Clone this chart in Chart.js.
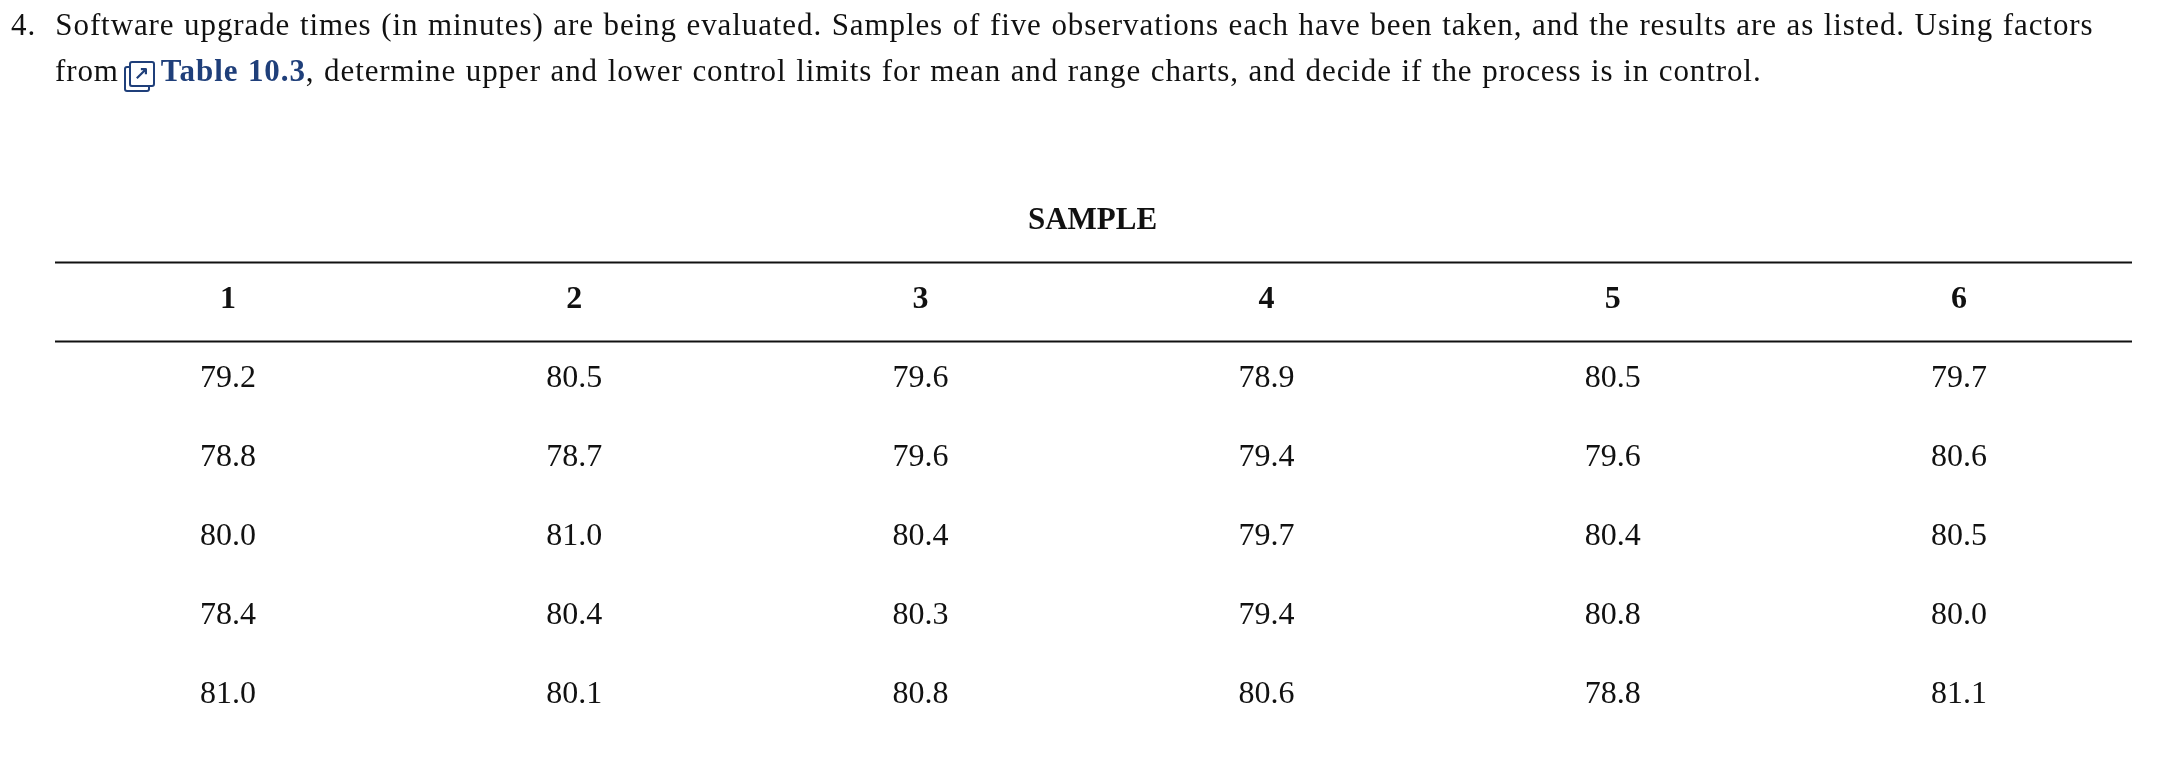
<!DOCTYPE html>
<html>
<head>
<meta charset="utf-8">
<script src="https://cdn.jsdelivr.net/npm/chart.js"></script>
<style>
  body { margin: 0; background: #fff; width: 2164px; height: 770px; overflow: hidden; position: relative; }
  #q { position: absolute; left: 11px; top: 2px; font-family: "Liberation Serif", serif; font-size: 31px; letter-spacing: 0.9px; word-spacing: 1px; line-height: 46px; color: #111; z-index: 2; white-space: nowrap; }
  #q .ind { padding-left: 44px; }
  #q b { color: #1f3f7a; }
  .ico { display: inline-block; width: 22px; height: 22px; border: 2.5px solid #1f3f7a; border-radius: 3px; vertical-align: 2px; margin: 0 6px 0 10px; position: relative; box-shadow: -5px 5px 0 -2px #fff, -5px 5px 0 0 #1f3f7a; font-size: 18px; line-height: 20px; text-align: center; color: #1f3f7a; font-weight: bold; letter-spacing: 0; }
  #wrap { position: absolute; left: 0; top: 0; width: 2164px; height: 770px; }
</style>
</head>
<body>
<div id="q">4.&nbsp; Software upgrade times (in minutes) are being evaluated. Samples of five observations each have been taken, and the results are as listed. Using factors<br>
<span class="ind">from<span class="ico">&#8599;</span><b>Table 10.3</b>, determine upper and lower control limits for mean and range charts, and decide if the process is in control.</span></div>
<div id="wrap"><canvas id="myChart"></canvas></div>
<script>
const sampleLabels = ['1', '2', '3', '4', '5', '6'];
const sample1 = ['79.2', '78.8', '80.0', '78.4', '81.0'];
const sample2 = ['80.5', '78.7', '81.0', '80.4', '80.1'];
const sample3 = ['79.6', '79.6', '80.4', '80.3', '80.8'];
const sample4 = ['78.9', '79.4', '79.7', '79.4', '80.6'];
const sample5 = ['80.5', '79.6', '80.4', '80.8', '78.8'];
const sample6 = ['79.7', '80.6', '80.5', '80.0', '81.1'];
const samples = [sample1, sample2, sample3, sample4, sample5, sample6];

const cells = [];
samples.forEach((col, c) => {
  cells.push({ x: c + 1, y: 0, t: sampleLabels[c], bold: true });
  col.forEach((v, r) => cells.push({ x: c + 1, y: r + 1, t: v, bold: false }));
});

const tablePlugin = {
  id: 'tableText',
  afterDatasetsDraw(chart) {
    const { ctx, scales: { x, y }, chartArea } = chart;
    ctx.save();
    ctx.strokeStyle = '#111';
    ctx.lineWidth = 2;
    [-0.48, 0.52].forEach(v => {
      const py = Math.round(y.getPixelForValue(v)) + 0.5;
      ctx.beginPath(); ctx.moveTo(chartArea.left, py); ctx.lineTo(chartArea.right, py); ctx.stroke();
    });
    ctx.fillStyle = '#111';
    ctx.textAlign = 'center';
    ctx.textBaseline = 'middle';
    ctx.font = 'bold 31px "Liberation Serif"';
    ctx.fillText('SAMPLE', (chartArea.left + chartArea.right) / 2 - 1, y.getPixelForValue(-1));
    chart.data.datasets[0].data.forEach(p => {
      ctx.font = (p.bold ? 'bold ' : '') + '32px "Liberation Serif"';
      ctx.fillText(p.t, x.getPixelForValue(p.x), y.getPixelForValue(p.y));
    });
    ctx.restore();
  }
};

new Chart(document.getElementById('myChart'), {
  type: 'scatter',
  data: { datasets: [{ data: cells, pointRadius: 0 }] },
  options: {
    responsive: true,
    maintainAspectRatio: false,
    animation: false,
    layout: { padding: { left: 55, right: 32, top: 181, bottom: 36 } },
    plugins: { legend: { display: false }, tooltip: { enabled: false } },
    scales: {
      x: { display: false, min: 0.5, max: 6.5 },
      y: { display: false, min: -1.5, max: 5.5, reverse: true }
    }
  },
  plugins: [tablePlugin]
});
</script>
</body>
</html>
